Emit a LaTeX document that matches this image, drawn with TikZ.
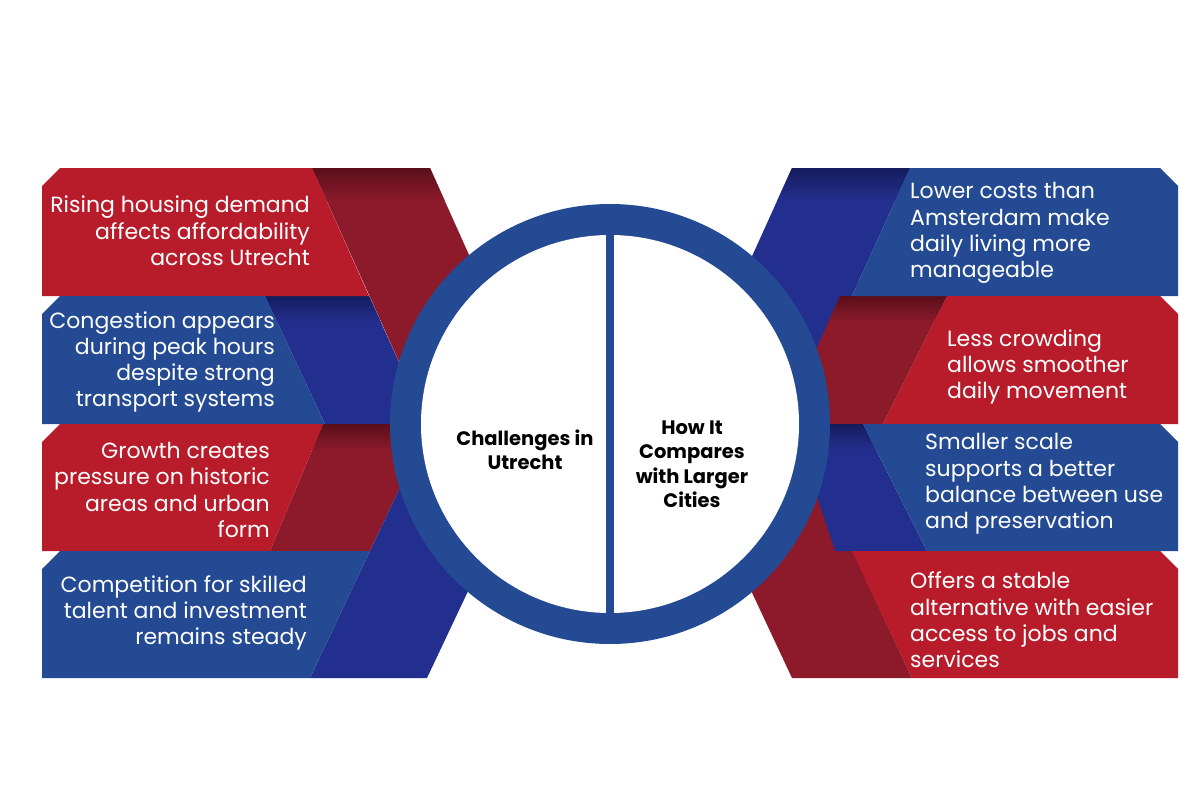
\documentclass[tikz,border=0pt]{standalone}
\usepackage{fontspec}
\setmainfont{Poppins}
\definecolor{lred}{HTML}{B81C2B}
\definecolor{dred}{HTML}{8C1A2A}
\definecolor{sred}{HTML}{5A0F1A}
\definecolor{lblue}{HTML}{234A92}
\definecolor{dblue}{HTML}{232F8E}
\definecolor{sblue}{HTML}{141C5C}
\definecolor{ringblue}{HTML}{234A92}
\begin{document}
\begin{tikzpicture}[x=1pt,y=-1pt,
  lt/.style={font=\fontsize{22}{26.3}\selectfont, text=white, align=right, anchor=east, inner sep=0pt},
  rt/.style={font=\fontsize{22}{26.3}\selectfont, text=white, align=left, anchor=west, inner sep=0pt},
  ct/.style={font=\bfseries\fontsize{19.5}{24.5}\selectfont, text=black, align=center, inner sep=0pt}]
\useasboundingbox (0,0) rectangle (1200,800);
\fill[white] (0,0) rectangle (1200,800);

% ---------- left side: dark folds ----------
\fill[dblue] (265,296)--(369,296)--(427,424)--(325,424)--cycle;
\fill[dred] (323,424)--(430,424)--(370,551)--(270,551)--cycle;
\fill[dred] (312,168)--(430,168)--(545,424)--(427,424)--cycle;
\fill[dblue] (310,678)--(427,678)--(547,424)--(430,424)--cycle;
% shadows
\begin{scope}
  \clip (312,168)--(430,168)--(545,424)--(427,424)--cycle;
  \shade[top color=sred, bottom color=dred] (300,168) rectangle (560,200);
\end{scope}
\begin{scope}
  \clip (265,296)--(369,296)--(427,424)--(325,424)--cycle;
  \shade[top color=sblue, bottom color=dblue] (250,296) rectangle (440,322);
\end{scope}
\begin{scope}
  \clip (323,424)--(430,424)--(370,551)--(270,551)--cycle;
  \shade[top color=sred, bottom color=dred] (260,424) rectangle (440,450);
\end{scope}

% ---------- left side: light bands ----------
\fill[lred]  (60,168)--(312,168)--(369,296)--(42,296)--(42,186)--cycle;
\fill[lblue] (60,296)--(265,296)--(325,424)--(42,424)--(42,314)--cycle;
\fill[lred]  (60,424)--(323,424)--(270,551)--(42,551)--(42,442)--cycle;
\fill[lblue] (60,551)--(370,551)--(310,678)--(42,678)--(42,569)--cycle;

% ---------- right side: dark folds ----------
\fill[dblue] (792,168)--(910,168)--(794,424)--(676,424)--cycle;
\fill[dred]  (947,296)--(840,296)--(783,424)--(883,424)--cycle;
\fill[dred]  (792,678)--(912,678)--(793,424)--(673,424)--cycle;
\fill[dblue] (863,424)--(790,424)--(815,490)--(835,551)--(927,551)--cycle;
\begin{scope}
  \clip (792,168)--(910,168)--(794,424)--(676,424)--cycle;
  \shade[top color=sblue, bottom color=dblue] (660,168) rectangle (920,200);
\end{scope}
\begin{scope}
  \clip (947,296)--(840,296)--(783,424)--(883,424)--cycle;
  \shade[top color=sred, bottom color=dred] (770,296) rectangle (960,322);
\end{scope}
\begin{scope}
  \clip (863,424)--(790,424)--(815,490)--(835,551)--(927,551)--cycle;
  \shade[top color=sblue, bottom color=dblue] (780,424) rectangle (940,450);
\end{scope}

% ---------- right side: light bands ----------
\fill[lblue] (910,168)--(1160,168)--(1178,186)--(1178,296)--(852,296)--cycle;
\fill[lred]  (947,296)--(1160,296)--(1178,314)--(1178,424)--(883,424)--cycle;
\fill[lblue] (863,424)--(1160,424)--(1178,442)--(1178,551)--(927,551)--cycle;
\fill[lred]  (852,551)--(1160,551)--(1178,569)--(1178,678)--(912,678)--cycle;

% ---------- central circle ----------
\fill[ringblue] (610,424) circle[radius=220];
\fill[white] (610,424) circle[radius=189];
\fill[ringblue] (606,230) rectangle (614,618);

% ---------- texts ----------
\node[lt] (t1) at (310,231) {Rising housing demand\\affects affordability\\across Utrecht};
\node[lt] (t2) at (275,362) {Congestion appears\\during peak hours\\despite strong\\transport systems};
\node[lt] (t3) at (270,490) {Growth creates\\pressure on historic\\areas and urban\\form};
\node[lt] (t4) at (307,613) {Competition for skilled\\talent and investment\\remains steady};

\node[rt] (r1) at (910,233) {Lower costs than\\Amsterdam make\\daily living more\\manageable};
\node[rt] (r2) at (947,367) {Less crowding\\allows smoother\\daily movement};
\node[rt] (r3) at (925,484) {Smaller scale\\supports a better\\balance between use\\and preservation};
\node[rt] (r4) at (910,620) {Offers a stable\\alternative with easier\\access to jobs and\\services};

\node[ct] (c1) at (525,450) {Challenges in\\Utrecht};
\node[ct] (c2) at (692,464) {How It\\Compares\\with Larger\\Cities};
\end{tikzpicture}
\end{document}
